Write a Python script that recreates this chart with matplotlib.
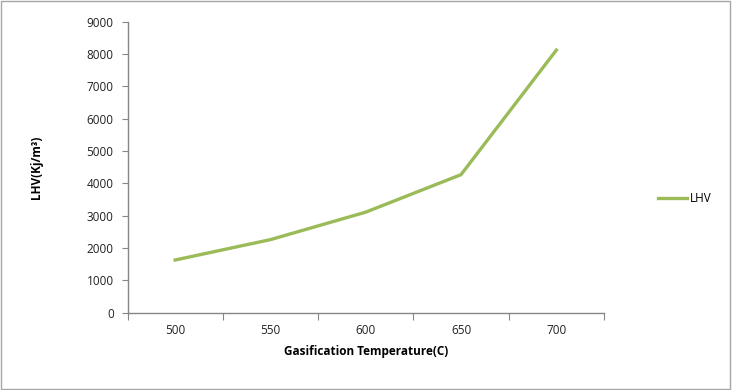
import matplotlib
matplotlib.use("Agg")
import matplotlib.pyplot as plt
from matplotlib.patches import Rectangle

temperatures = ["500", "550", "600", "650", "700"]
lhv = [1630, 2260, 3110, 4270, 8120]
yticks = [0, 1000, 2000, 3000, 4000, 5000, 6000, 7000, 8000, 9000]

plt.rcParams['font.family'] = ['Open Sans', 'DejaVu Sans']

fig = plt.figure(figsize=(7.32, 3.90), dpi=100)
ax = fig.add_axes([0.1742, 0.1982, 0.8251 - 0.1742, 0.9444 - 0.1982])

x = list(range(len(temperatures)))
line, = ax.plot(x, lhv, color="#9BBB59", linewidth=2.4, solid_joinstyle="miter", label="LHV")

ax.set_xlim(-0.5, len(temperatures) - 0.5)
ax.set_ylim(0, 9000)
ax.set_yticks(yticks)
ax.set_yticklabels([str(v) for v in yticks], fontsize=8.5, color="#222222")

ax.set_xticks([i - 0.5 for i in range(len(temperatures) + 1)])
ax.set_xticklabels([])
ax.set_xticks(x, minor=True)
ax.set_xticklabels(temperatures, minor=True, fontsize=8.5, color="#222222")
ax.tick_params(axis="x", which="minor", length=0, pad=8)
ax.tick_params(axis="x", which="major", length=5, color="#868686", direction="out")
ax.tick_params(axis="y", length=4, color="#868686", direction="out", pad=6)

for s in ["top", "right"]:
    ax.spines[s].set_visible(False)
for s in ["left", "bottom"]:
    ax.spines[s].set_color("#868686")
    ax.spines[s].set_linewidth(1.0)

ax.set_xlabel("Gasification Temperature(C)", fontsize=8.5, fontweight="bold", labelpad=6)
ax.set_ylabel("LHV(Kj/m³)", fontsize=8.5, fontweight="bold", labelpad=31)

fig.legend(handles=[line], labels=["LHV"], loc="center left", bbox_to_anchor=(0.885, 0.49),
           frameon=False, fontsize=8.5, handlelength=2.4, handletextpad=0.3)

fig.patches.append(Rectangle((0.002, 0.003), 0.995, 0.994, transform=fig.transFigure,
                             fill=False, edgecolor="#a6a6a6", linewidth=1.0))

fig.savefig("out.png", dpi=100)
